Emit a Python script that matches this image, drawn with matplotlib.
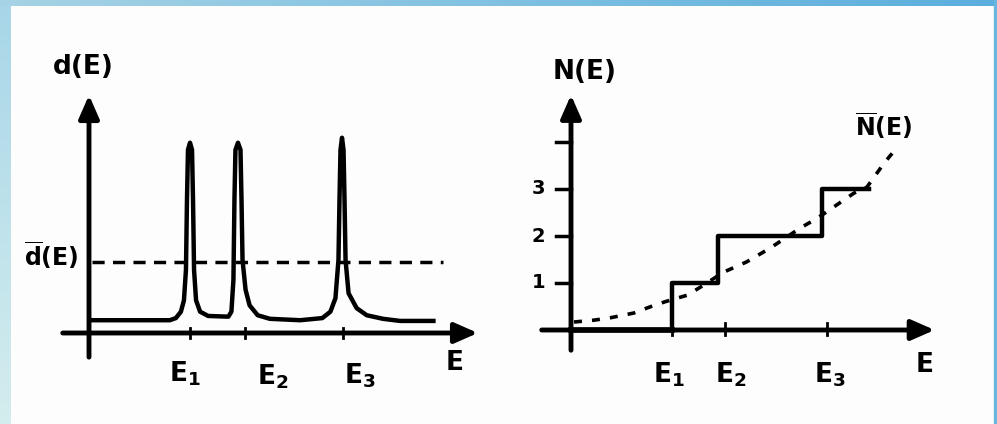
import numpy as np
import matplotlib
matplotlib.use("Agg")
import matplotlib.pyplot as plt

plt.rcParams["mathtext.fontset"] = "dejavusans"
plt.rcParams["font.family"] = "DejaVu Sans"

# left panel: level density d(E), sharp peaks at E1, E2, E3
d_E = [0.03, 0.80, 0.86, 0.91, 0.94, 0.96, 0.97, 0.98, 1.00, 1.02, 1.03, 1.04, 1.06,
       1.10, 1.18, 1.38, 1.41, 1.43, 1.44, 1.45, 1.475, 1.50, 1.51, 1.52, 1.55, 1.59,
       1.67, 1.79, 2.09, 2.31, 2.39, 2.44, 2.47, 2.48, 2.49, 2.505, 2.52, 2.53, 2.54,
       2.57, 2.65, 2.75, 2.91, 3.08, 3.41]
d_val = [0.18, 0.18, 0.21, 0.30, 0.46, 0.89, 1.87, 2.58, 2.68, 2.58, 1.87, 0.89, 0.46,
         0.30, 0.24, 0.23, 0.30, 0.75, 1.87, 2.58, 2.68, 2.58, 1.87, 1.03, 0.61, 0.39,
         0.25, 0.20, 0.18, 0.21, 0.30, 0.49, 1.03, 1.87, 2.58, 2.75, 2.58, 1.87, 1.03,
         0.56, 0.35, 0.25, 0.20, 0.17, 0.17]
d_mean = 1.0
d_mean_range = [0.03, 3.5]
left_ticks = [1.0, 1.54, 2.51]
left_labels = [r"$\mathbf{E_1}$", r"$\mathbf{E_2}$", r"$\mathbf{E_3}$"]

# right panel: staircase N(E) and smooth average
step_E = [1.0, 1.0, 1.46, 1.46, 2.49, 2.49, 2.95]
step_N = [0, 1, 1, 2, 2, 3, 3]
avg_E = [0.03, 0.23, 0.39, 0.62, 0.78, 0.93, 1.15, 1.28, 1.51, 1.74, 1.97, 2.27,
         2.44, 2.63, 2.80, 2.93, 3.10, 3.23]
avg_N = [0.17, 0.21, 0.26, 0.36, 0.49, 0.60, 0.74, 0.91, 1.23, 1.45, 1.74, 2.17,
         2.38, 2.66, 2.91, 3.04, 3.55, 3.89]
right_ticks = [1.0, 1.52, 2.53]
right_labels = [r"$\mathbf{E_1}$", r"$\mathbf{E_2}$", r"$\mathbf{E_3}$"]
n_ticks = [1, 2, 3, 4]
n_labels = ["1", "2", "3", ""]

W, H = 997, 424
fig = plt.figure(figsize=(W / 100, H / 100), dpi=100)

# gradient frame
bg = fig.add_axes([0, 0, 1, 1], zorder=-5)
bg.axis("off")
bg.add_patch(plt.Rectangle((0, 0), W, H, color="#fdfdfd", zorder=0))
top = np.linspace(0, 1, 256)[None, :, None]
c1, c2 = np.array([166, 211, 229]) / 255, np.array([90, 174, 221]) / 255
bg.imshow(c1 * (1 - top) + c2 * top, extent=(0, W, 6, 0), aspect="auto", zorder=2)
side = np.linspace(0, 1, 256)[:, None, None]
c3, c4 = np.array([168, 214, 232]) / 255, np.array([212, 237, 238]) / 255
bg.imshow(c3 * (1 - side) + c4 * side, extent=(0, 10, H, 6), aspect="auto", zorder=2)
bg.add_patch(plt.Rectangle((994, 0), 3, H, color="#69b6e0", zorder=2))
bg.set_xlim(0, W)
bg.set_ylim(H, 0)


def place(origin, sx, sy, xlim, ylim):
    x0, y0 = origin
    l = x0 + xlim[0] * sx
    r = x0 + xlim[1] * sx
    t = y0 - ylim[1] * sy
    b = y0 - ylim[0] * sy
    return [l / W, 1 - b / H, (r - l) / W, (b - t) / H]


def arrow(ax, start, tip):
    ax.annotate("", xy=tip, xytext=start,
                arrowprops=dict(arrowstyle="-|>,head_length=0.5,head_width=0.22",
                                lw=3.5, color="black", mutation_scale=28,
                                shrinkA=0, shrinkB=0))


txt = dict(fontsize=19, fontweight="bold", ha="center", va="center")

# ---- left panel ----
xl, yl = (-0.85, 4.2), (-1.2, 4.6)
ax1 = fig.add_axes(place((89, 333), 101, 71, xl, yl))
ax1.set_xlim(xl)
ax1.set_ylim(yl)
ax1.axis("off")
arrow(ax1, (-0.26, 0), (3.85, 0))
arrow(ax1, (0, -0.34), (0, 3.35))
ax1.plot(d_E, d_val, color="black", lw=3.2, solid_joinstyle="round")
ax1.plot(d_mean_range, [d_mean, d_mean], color="black", lw=2.5,
         linestyle=(0, (3.5, 2.4)))
for e, lab, dx, dy in zip(left_ticks, left_labels, [-0.05, 0.28, 0.17], [-0.57, -0.62, -0.6]):
    ax1.plot([e, e], [-0.07, 0.07], color="black", lw=2)
    ax1.text(e + dx, dy, lab, **txt)
ax1.text(3.62, -0.42, "E", **txt)
ax1.text(-0.06, 3.75, "d(E)", **txt)
ax1.text(-0.37, 1.1, r"$\overline{\mathbf{d}}\mathbf{(E)}$", fontsize=17,
         ha="center", va="center")

# ---- right panel ----
xr, yr = (-0.6, 4.0), (-1.8, 6.5)
ax2 = fig.add_axes(place((571, 330), 101, 47, xr, yr))
ax2.set_xlim(xr)
ax2.set_ylim(yr)
ax2.axis("off")
arrow(ax2, (-0.29, 0), (3.6, 0))
arrow(ax2, (0, -0.43), (0, 5.0))
ax2.plot([0, step_E[0]], [0, 0], color="black", lw=4)
ax2.plot(step_E, step_N, color="black", lw=3.2, solid_joinstyle="round")
ax2.plot(avg_E, avg_N, color="black", lw=2.6, linestyle=(0, (2.2, 2.8)))
for e, lab, dx in zip(right_ticks, right_labels, [-0.03, 0.06, 0.03]):
    ax2.plot([e, e], [-0.1, 0.15], color="black", lw=2)
    ax2.text(e + dx, -0.95, lab, **txt)
ax2.text(3.50, -0.74, "E", **txt)
for n, lab in zip(n_ticks, n_labels):
    ax2.plot([-0.15, 0], [n, n], color="black", lw=2.5)
    ax2.text(-0.32, n, lab, fontsize=14, fontweight="bold", ha="center", va="center")
ax2.text(0.13, 5.49, "N(E)", **txt)
ax2.text(3.10, 4.35, r"$\overline{\mathbf{N}}\mathbf{(E)}$", fontsize=17,
         ha="center", va="center")

fig.savefig("out.png", dpi=100)
